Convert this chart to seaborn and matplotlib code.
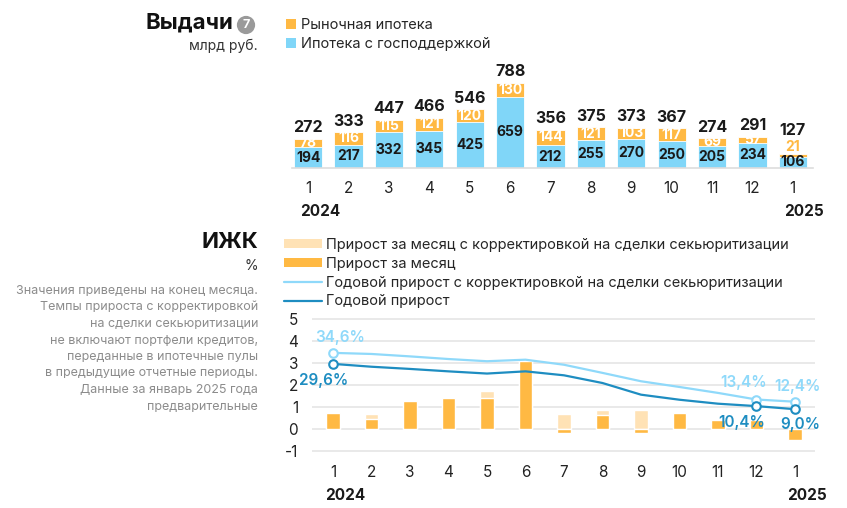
import matplotlib
matplotlib.use("Agg")
import matplotlib.pyplot as plt
import seaborn as sns
import numpy as np
import pandas as pd
from matplotlib.patches import Patch
from matplotlib.lines import Line2D

# --- data -------------------------------------------------------------
months = ['1', '2', '3', '4', '5', '6', '7', '8', '9', '10', '11', '12', '1']
years = {0: '2024', 12: '2025'}

gov = [194, 217, 332, 345, 425, 659, 212, 255, 270, 250, 205, 234, 106]
market = [78, 116, 115, 121, 120, 130, 144, 121, 103, 117, 69, 57, 21]
totals = [272, 333, 447, 466, 546, 788, 356, 375, 373, 367, 274, 291, 127]

mom = [0.73, 0.45, 1.26, 1.42, 1.41, 3.08, -0.17, 0.62, -0.20, 0.73, 0.41, 0.40, -0.52]
mom_adj = [0.73, 0.67, 1.26, 1.42, 1.73, 3.08, 0.68, 0.88, 0.86, 0.73, 0.41, 0.42, -0.52]
yoy_adj = [34.6, 34.1, 33.0, 31.8, 30.8, 31.5, 29.2, 25.5, 21.7, 19.1, 16.4, 13.4, 12.4]
yoy = [29.6, 28.3, 27.3, 26.2, 25.2, 26.2, 24.4, 20.9, 15.6, 13.3, 11.5, 10.4, 9.0]
marked = [0, 11, 12]

notes = [
    'Значения приведены на конец месяца.',
    'Темпы прироста с корректировкой',
    'на сделки секьюритизации',
    'не включают портфели кредитов,',
    'переданные в ипотечные пулы',
    'в предыдущие отчетные периоды.',
    'Данные за январь 2025 года',
    'предварительные',
]

# --- style ------------------------------------------------------------
ORANGE = '#FFB943'
ORANGE_LIGHT = '#FFE2B5'
BLUE = '#80D6F8'
LINE_LIGHT = '#8FD9FA'
LINE_DARK = '#1E8DC1'
GRAY_TEXT = '#8C8C8C'

sns.set_style('white')
plt.rcParams['font.family'] = ['Inter', 'DejaVu Sans']
plt.rcParams['axes.unicode_minus'] = False

W, H = 847, 508
fig = plt.figure(figsize=(W / 100, H / 100), dpi=100)


def fx(x):
    return x / W


def fy(y):
    return 1 - y / H


def rect(left, top, right, bottom):
    return [fx(left), fy(bottom), fx(right) - fx(left), fy(top) - fy(bottom)]


df = pd.DataFrame({'x': np.arange(len(months)), 'gov': gov, 'market': market,
                   'stack': np.array(gov) + np.array(market), 'total': totals,
                   'mom': mom, 'mom_adj': mom_adj,
                   'yoy_adj': np.array(yoy_adj) / 10, 'yoy': np.array(yoy) / 10})

# --- top panel: issuance ---------------------------------------------
ax1 = fig.add_axes(rect(292, 60, 813, 168))
sns.barplot(data=df, x='x', y='stack', color=ORANGE, saturation=1, width=0.7,
            ax=ax1, edgecolor='white', linewidth=0.6)
sns.barplot(data=df, x='x', y='gov', color=BLUE, saturation=1, width=0.7,
            ax=ax1, edgecolor='white', linewidth=0.6)
ax1.set_xlim(-0.4, 12.5)
ax1.set_ylim(0, 1000)
for s in ['top', 'right', 'left']:
    ax1.spines[s].set_visible(False)
ax1.spines['bottom'].set_color('#DDDDDD')
ax1.spines['bottom'].set_linewidth(1.2)
ax1.set_yticks([])
ax1.set_xlabel('')
ax1.set_ylabel('')
ax1.set_xticks(df['x'])
ax1.set_xticklabels(months)
ax1.tick_params(axis='x', length=0, pad=9, labelsize=11, labelcolor='#222222')

for i in range(len(months)):
    g, m, s, t = gov[i], market[i], gov[i] + market[i], totals[i]
    ax1.text(i, g / 2, str(g), ha='center', va='center',
             fontsize=10, fontweight='bold', color='#1A1A1A')
    if m > 40:
        ax1.text(i, g + m / 2, str(m), ha='center', va='center',
                 fontsize=10, fontweight='bold', color='white')
        ax1.text(i, s + 100, str(t), ha='center', va='center',
                 fontsize=11.5, fontweight='bold', color='#1A1A1A')
    else:
        ax1.text(i, s + 65, str(m), ha='center', va='center',
                 fontsize=10, fontweight='bold', color=ORANGE)
        ax1.text(i, s + 220, str(t), ha='center', va='center',
                 fontsize=11.5, fontweight='bold', color='#1A1A1A')

for i, yr in years.items():
    ax1.annotate(yr, xy=(i, 0), xycoords=('data', 'axes fraction'),
                 xytext=(-6, -31), textcoords='offset points', ha='left', va='center',
                 fontsize=11, fontweight='bold', color='#1A1A1A')

fig.text(fx(233), fy(23), 'Выдачи', ha='right', va='center', fontsize=16,
         fontweight='bold', color='#111111')
fig.text(fx(246), fy(25), '7', ha='center', va='center', fontsize=9,
         fontweight='bold', color='white',
         bbox=dict(boxstyle='circle,pad=0.25', fc='#9A9A9A', ec='none'))
fig.text(fx(258), fy(46), 'млрд руб.', ha='right', va='center', fontsize=10,
         color='#333333')

top_handles = [Patch(facecolor=ORANGE, edgecolor='none', label='Рыночная ипотека'),
               Patch(facecolor=BLUE, edgecolor='none', label='Ипотека с господдержкой')]
fig.legend(handles=top_handles, loc='upper left', bbox_to_anchor=(fx(286), fy(18)),
           frameon=False, fontsize=10.5, handlelength=0.7, handleheight=0.7,
           handletextpad=0.3, labelspacing=0.35, borderaxespad=0, borderpad=0)

# --- bottom panel: housing loans -------------------------------------
ax2 = fig.add_axes(rect(312, 306, 815, 458))
sns.barplot(data=df, x='x', y='mom_adj', color=ORANGE_LIGHT, saturation=1,
            width=0.36, ax=ax2)
sns.barplot(data=df, x='x', y='mom', color=ORANGE, saturation=1, width=0.36, ax=ax2)
sns.lineplot(data=df, x='x', y='yoy_adj', color=LINE_LIGHT, linewidth=1.6, ax=ax2)
sns.lineplot(data=df, x='x', y='yoy', color=LINE_DARK, linewidth=1.6, ax=ax2)
mk = df.loc[marked]
ax2.scatter(mk['x'], mk['yoy_adj'], s=38, facecolor='white', edgecolor=LINE_LIGHT,
            linewidth=1.5, zorder=5)
ax2.scatter(mk['x'], mk['yoy'], s=38, facecolor='white', edgecolor=LINE_DARK,
            linewidth=1.5, zorder=5)

adj_off = {0: (5, 11), 11: (-9, 12), 12: (2, 11)}
raw_off = {0: (-7, -12), 11: (-11, -12), 12: (4, -11)}
for i in marked:
    ax2.annotate(f'{yoy_adj[i]:.1f}%'.replace('.', ','), xy=(i, yoy_adj[i] / 10),
                 xytext=adj_off[i], textcoords='offset points', ha='center', va='center',
                 fontsize=11, fontweight='semibold', color=LINE_LIGHT, zorder=6)
    ax2.annotate(f'{yoy[i]:.1f}%'.replace('.', ','), xy=(i, yoy[i] / 10),
                 xytext=raw_off[i], textcoords='offset points', ha='center', va='center',
                 fontsize=11, fontweight='semibold', color=LINE_DARK, zorder=6)

ax2.set_xlim(-0.545, 12.52)
ax2.set_ylim(-1.318, 5.59)
ax2.set_yticks(range(-1, 6))
ax2.yaxis.grid(True, color='#E3E3E3', linewidth=1.1)
ax2.set_axisbelow(True)
sns.despine(ax=ax2, left=True, bottom=True)
ax2.set_xlabel('')
ax2.set_ylabel('')
ax2.set_xticks(df['x'])
ax2.set_xticklabels(months)
ax2.tick_params(axis='x', length=0, pad=5, labelsize=11, labelcolor='#222222')
ax2.tick_params(axis='y', length=0, pad=10, labelsize=11, labelcolor='#222222')

for i, yr in years.items():
    ax2.annotate(yr, xy=(i, 0), xycoords=('data', 'axes fraction'),
                 xytext=(-6, -27), textcoords='offset points', ha='left', va='center',
                 fontsize=11, fontweight='bold', color='#1A1A1A')

fig.text(fx(258), fy(242), 'ИЖК', ha='right', va='center', fontsize=16,
         fontweight='bold', color='#111111')
fig.text(fx(258), fy(266), '%', ha='right', va='center', fontsize=10,
         color='#333333')
for k, line in enumerate(notes):
    fig.text(fx(258), fy(291 + k * 16.5), line, ha='right', va='center',
             fontsize=9, color=GRAY_TEXT)

bottom_handles = [
    Patch(facecolor=ORANGE_LIGHT, edgecolor='none',
          label='Прирост за месяц с корректировкой на сделки секьюритизации'),
    Patch(facecolor=ORANGE, edgecolor='none', label='Прирост за месяц'),
    Line2D([], [], color=LINE_LIGHT, linewidth=1.6,
           label='Годовой прирост с корректировкой на сделки секьюритизации'),
    Line2D([], [], color=LINE_DARK, linewidth=1.6, label='Годовой прирост'),
]
fig.legend(handles=bottom_handles, loc='upper left', bbox_to_anchor=(fx(284), fy(238)),
           frameon=False, fontsize=10.5, handlelength=2.6, handleheight=0.55,
           handletextpad=0.25, labelspacing=0.33, borderaxespad=0, borderpad=0)

fig.savefig('out.png', dpi=100)
